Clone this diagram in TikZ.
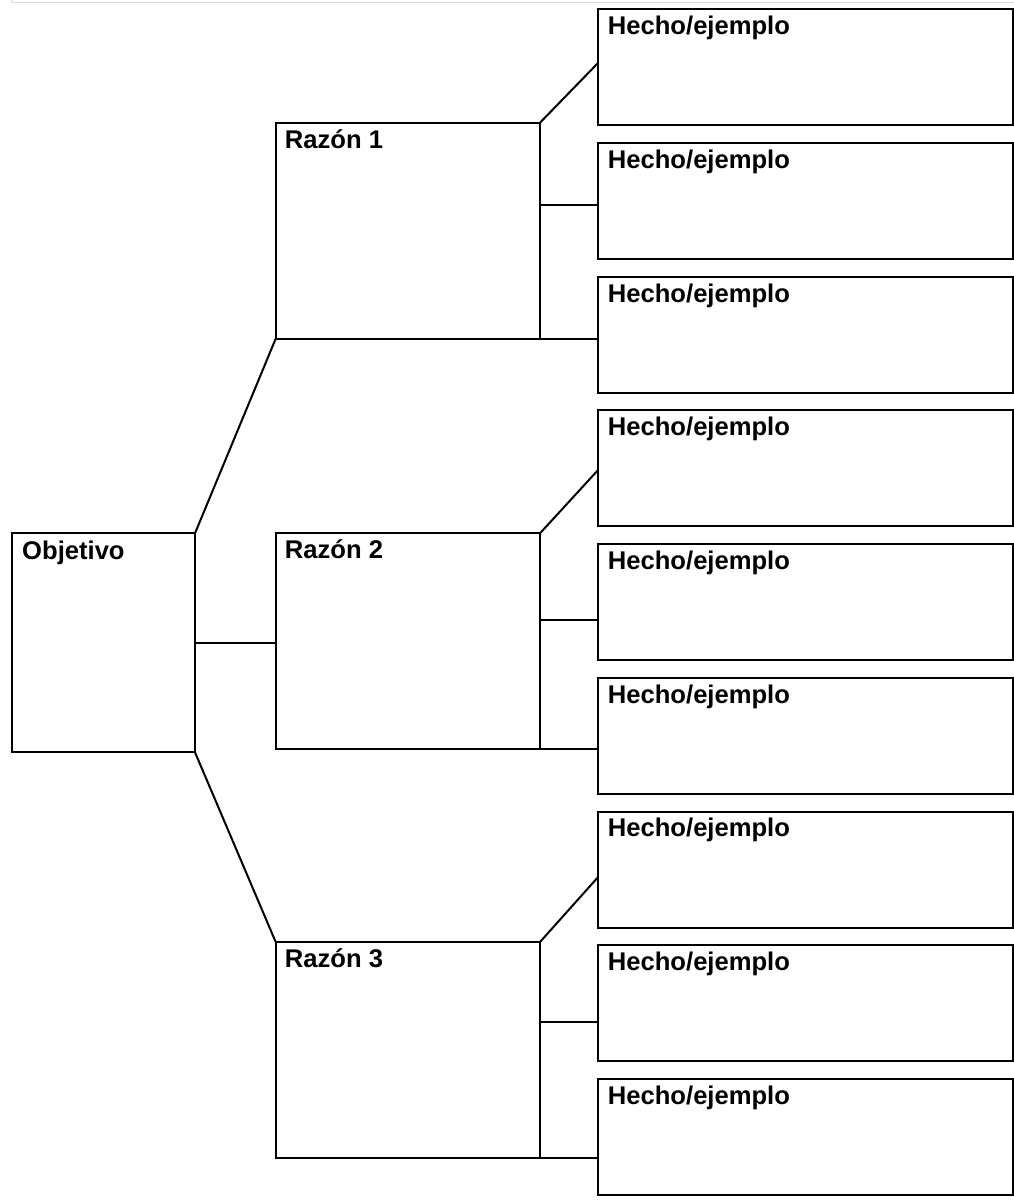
\documentclass[tikz,border=0pt]{standalone}
\usepackage{fontspec}
\setmainfont{Liberation Sans}
\usetikzlibrary{calc}
\tikzset{
  box/.style={draw=black, line width=2pt, rectangle, anchor=north west, inner sep=0pt, outer sep=0pt, fill=white},
  hbox/.style={box, minimum width=415.6pt, minimum height=116pt},
  rbox/.style={box, minimum width=264.3pt, minimum height=216pt},
  obox/.style={box, minimum width=183pt, minimum height=219pt},
  lbl/.style={anchor=base west, inner sep=0pt, font=\fontsize{25.6}{30}\selectfont\bfseries},
  conn/.style={draw=black, line width=2pt}
}
\begin{document}
\begin{tikzpicture}[x=1pt,y=-1pt]
\useasboundingbox (0,0) rectangle (1014,1200);
\fill[white] (0,0) rectangle (1014,1200);
\draw[line width=1pt, black!15] (11.7,0) -- (11.7,2) -- (1014,2);
% Objetivo
\node[obox] (o) at (12,533.3) {};
\node[lbl] (ot) at ($(o.north west)+(10,26)$) {Objetivo};
% Razones
\node[rbox] (r1) at (275.7,122.7) {};
\node[rbox] (r2) at (275.7,533.3) {};
\node[rbox] (r3) at (275.7,942) {};
\node[lbl] (r1t) at ($(r1.north west)+(9,25.3)$) {Razón 1};
\node[lbl] (r2t) at ($(r2.north west)+(9,25.3)$) {Razón 2};
\node[lbl] (r3t) at ($(r3.north west)+(9,25.3)$) {Razón 3};
% Hechos
\foreach \i in {1,...,9}{
  \node[hbox] (h\i) at (597.7,{9.3+133.7*(\i-1)}) {};
  \node[lbl] (h\i t) at ($(h\i.north west)+(10,25.4)$) {Hecho/ejemplo};
}
% connectors from Objetivo
\draw[conn] (o.north east) -- (r1.south west);
\draw[conn] (o.east) -- (o.east -| r2.west);
\draw[conn] (o.south east) -- (r3.north west);
% Razon 1
\coordinate (c1) at ($(h1.north west)+(0,54)$);
\draw[conn] (r1.north east) -- (c1);
\draw[conn] (r1.east |- 0,205) -- (h2.west |- 0,205);
\draw[conn] (r1.south east) -- (r1.south east -| h3.west);
% Razon 2
\coordinate (c4) at ($(h4.north west)+(0,60)$);
\draw[conn] (r2.north east) -- (c4);
\draw[conn] (r2.east |- 0,620) -- (h5.west |- 0,620);
\draw[conn] (r2.south east) -- (r2.south east -| h6.west);
% Razon 3
\coordinate (c7) at ($(h7.north west)+(0,66)$);
\draw[conn] (r3.north east) -- (c7);
\draw[conn] (r3.east |- 0,1021.7) -- (h8.west |- 0,1021.7);
\draw[conn] (r3.south east) -- (r3.south east -| h9.west);
\end{tikzpicture}
\end{document}
